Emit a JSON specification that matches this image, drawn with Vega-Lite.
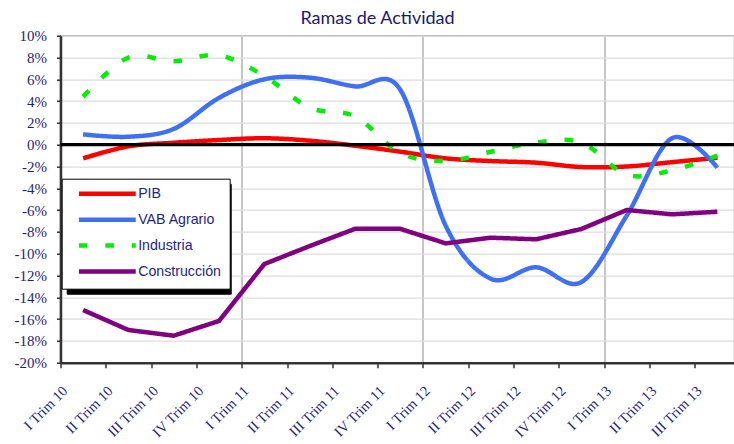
{
  "$schema": "https://vega.github.io/schema/vega-lite/v6.json",
  "width": 674,
  "height": 327,
  "autosize": "none",
  "padding": {"left": 60.5, "top": 35.7, "right": 0, "bottom": 81.3},
  "background": "white",
  "title": {"text": "Ramas de Actividad", "font": "Lato", "fontSize": 18, "fontWeight": "normal", "color": "#1A1A70", "frame": "group", "anchor": "middle", "dx": -20, "offset": 0.5},
  "config": {"view": {"stroke": "#a6a6a6", "strokeWidth": 1.5}},
  "data": {"values": [
    {"c": "I Trim 10", "s": "PIB", "v": -1.25}, {"c": "II Trim 10", "s": "PIB", "v": -0.15}, {"c": "III Trim 10", "s": "PIB", "v": 0.18}, {"c": "IV Trim 10", "s": "PIB", "v": 0.43}, {"c": "I Trim 11", "s": "PIB", "v": 0.59}, {"c": "II Trim 11", "s": "PIB", "v": 0.37}, {"c": "III Trim 11", "s": "PIB", "v": -0.09}, {"c": "IV Trim 11", "s": "PIB", "v": -0.64}, {"c": "I Trim 12", "s": "PIB", "v": -1.25}, {"c": "II Trim 12", "s": "PIB", "v": -1.5}, {"c": "III Trim 12", "s": "PIB", "v": -1.65}, {"c": "IV Trim 12", "s": "PIB", "v": -2.05}, {"c": "I Trim 13", "s": "PIB", "v": -2.0}, {"c": "II Trim 13", "s": "PIB", "v": -1.6}, {"c": "III Trim 13", "s": "PIB", "v": -1.2},
    {"c": "I Trim 10", "s": "VAB Agrario", "v": 0.95}, {"c": "II Trim 10", "s": "VAB Agrario", "v": 0.73}, {"c": "III Trim 10", "s": "VAB Agrario", "v": 1.45}, {"c": "IV Trim 10", "s": "VAB Agrario", "v": 4.3}, {"c": "I Trim 11", "s": "VAB Agrario", "v": 6.0}, {"c": "II Trim 11", "s": "VAB Agrario", "v": 6.15}, {"c": "III Trim 11", "s": "VAB Agrario", "v": 5.35}, {"c": "IV Trim 11", "s": "VAB Agrario", "v": 5.05}, {"c": "I Trim 12", "s": "VAB Agrario", "v": -7.4}, {"c": "II Trim 12", "s": "VAB Agrario", "v": -12.3}, {"c": "III Trim 12", "s": "VAB Agrario", "v": -11.25}, {"c": "IV Trim 12", "s": "VAB Agrario", "v": -12.6}, {"c": "I Trim 13", "s": "VAB Agrario", "v": -6.5}, {"c": "II Trim 13", "s": "VAB Agrario", "v": 0.6}, {"c": "III Trim 13", "s": "VAB Agrario", "v": -2.1},
    {"c": "I Trim 10", "s": "Industria", "v": 4.4}, {"c": "II Trim 10", "s": "Industria", "v": 8.0}, {"c": "III Trim 10", "s": "Industria", "v": 7.65}, {"c": "IV Trim 10", "s": "Industria", "v": 8.2}, {"c": "I Trim 11", "s": "Industria", "v": 6.3}, {"c": "II Trim 11", "s": "Industria", "v": 3.4}, {"c": "III Trim 11", "s": "Industria", "v": 2.6}, {"c": "IV Trim 11", "s": "Industria", "v": -0.75}, {"c": "I Trim 12", "s": "Industria", "v": -1.5}, {"c": "II Trim 12", "s": "Industria", "v": -0.65}, {"c": "III Trim 12", "s": "Industria", "v": 0.2}, {"c": "IV Trim 12", "s": "Industria", "v": 0.2}, {"c": "I Trim 13", "s": "Industria", "v": -2.75}, {"c": "II Trim 13", "s": "Industria", "v": -2.35}, {"c": "III Trim 13", "s": "Industria", "v": -1.0},
    {"c": "I Trim 10", "s": "Construcción", "v": -15.17}, {"c": "II Trim 10", "s": "Construcción", "v": -17.0}, {"c": "III Trim 10", "s": "Construcción", "v": -17.52}, {"c": "IV Trim 10", "s": "Construcción", "v": -16.17}, {"c": "I Trim 11", "s": "Construcción", "v": -10.95}, {"c": "II Trim 11", "s": "Construcción", "v": -9.3}, {"c": "III Trim 11", "s": "Construcción", "v": -7.72}, {"c": "IV Trim 11", "s": "Construcción", "v": -7.72}, {"c": "I Trim 12", "s": "Construcción", "v": -9.05}, {"c": "II Trim 12", "s": "Construcción", "v": -8.53}, {"c": "III Trim 12", "s": "Construcción", "v": -8.68}, {"c": "IV Trim 12", "s": "Construcción", "v": -7.73}, {"c": "I Trim 13", "s": "Construcción", "v": -5.99}, {"c": "II Trim 13", "s": "Construcción", "v": -6.39}, {"c": "III Trim 13", "s": "Construcción", "v": -6.15}
  ]},
  "encoding": {
    "x": {"field": "c", "type": "nominal", "title": null,
      "scale": {"type": "band", "domain": ["I Trim 10","II Trim 10","III Trim 10","IV Trim 10","I Trim 11","II Trim 11","III Trim 11","IV Trim 11","I Trim 12","II Trim 12","III Trim 12","IV Trim 12","I Trim 13","II Trim 13","III Trim 13"], "range": [0, 679.5], "paddingInner": 0, "paddingOuter": 0},
      "axis": {"labelAngle": -45, "labelFont": "Liberation Serif", "labelFontSize": 14.5, "labelColor": "#1E1E80", "labelOffset": -23, "labelPadding": 16, "tickBand": "extent", "tickSize": 5, "tickColor": "#333333", "tickWidth": 1.5, "domainColor": "#333333", "domainWidth": 2.5,
        "grid": true, "gridColor": "#b3b3b3", "gridWidth": 1.5,
        "gridOpacity": {"condition": {"test": "indexof(['IV Trim 10','IV Trim 11','IV Trim 12'], datum.value) >= 0", "value": 1}, "value": 0}}},
    "y": {"field": "v", "type": "quantitative", "title": null,
      "scale": {"domain": [-20, 10], "nice": false},
      "axis": {"values": [-20,-18,-16,-14,-12,-10,-8,-6,-4,-2,0,2,4,6,8,10], "labelExpr": "datum.value + '%'", "labelFont": "Liberation Serif", "labelFontSize": 15, "labelColor": "#1E1E80", "labelPadding": 10, "tickSize": 4, "tickColor": "#333333", "tickWidth": 1.5, "domainColor": "#333333", "domainWidth": 2.5, "gridColor": "#dcdcdc", "gridWidth": 1.2}}
  },
  "layer": [
    {
      "transform": [{"filter": "datum.s !== 'Construcción'"}],
      "mark": {"type": "line", "interpolate": "cardinal", "tension": 0},
      "encoding": {
        "color": {"field": "s", "type": "nominal", "scale": {"domain": ["PIB","VAB Agrario","Industria","Construcción"], "range": ["#FF0000","#3F6FF2","#00EE00","#800080"]},
          "legend": {"title": null, "orient": "none", "legendX": 1.2, "legendY": 143, "direction": "vertical", "symbolType": "M-1,0H12.4", "symbolSize": 72, "symbolOffset": 6.35, "labelOffset": 47.9, "labelFont": "Liberation Sans", "labelFontSize": 14.2, "labelColor": "#1E1E8C", "rowPadding": 6.9, "padding": 8, "strokeColor": "black", "fillColor": "white", "labelLimit": 0, "zindex": 2}},
        "strokeWidth": {"field": "s", "type": "nominal", "scale": {"domain": ["PIB","VAB Agrario","Industria","Construcción"], "range": [4.5, 4.5, 4.5, 2.6]}},
        "strokeDash": {"field": "s", "type": "nominal", "scale": {"domain": ["PIB","VAB Agrario","Industria","Construcción"], "range": [[1,0],[1,0],[8.5,18],[1,0]]}},
        "opacity": {"field": "s", "type": "nominal", "scale": {"range": [1, 1, 1, 1]},
          "legend": {"title": null, "orient": "none", "legendX": 6.2, "legendY": 148, "direction": "vertical", "symbolType": "M-1,0H12.4", "symbolSize": 72, "symbolOffset": 6.35, "labelOffset": 126.9, "labelExpr": "'\u00a0'", "labelFont": "Liberation Sans", "labelFontSize": 14.2, "labelColor": "black", "symbolStrokeColor": "black", "symbolStrokeWidth": 4.5, "rowPadding": 6.9, "padding": 8, "strokeColor": "black", "fillColor": "black", "labelLimit": 0, "zindex": 1}}
      }
    },
    {
      "transform": [{"filter": "datum.s === 'Construcción'"}],
      "mark": {"type": "line"},
      "encoding": {
        "color": {"field": "s", "type": "nominal"},
        "strokeWidth": {"field": "s", "type": "nominal"},
        "strokeDash": {"field": "s", "type": "nominal"},
        "opacity": {"field": "s", "type": "nominal"}
      }
    },
    {
      "data": {"values": [{"z": 0}]},
      "mark": {"type": "rule", "color": "black", "strokeWidth": 3.3},
      "encoding": {"x": null, "y": {"field": "z", "type": "quantitative"}}
    }
  ]
}
